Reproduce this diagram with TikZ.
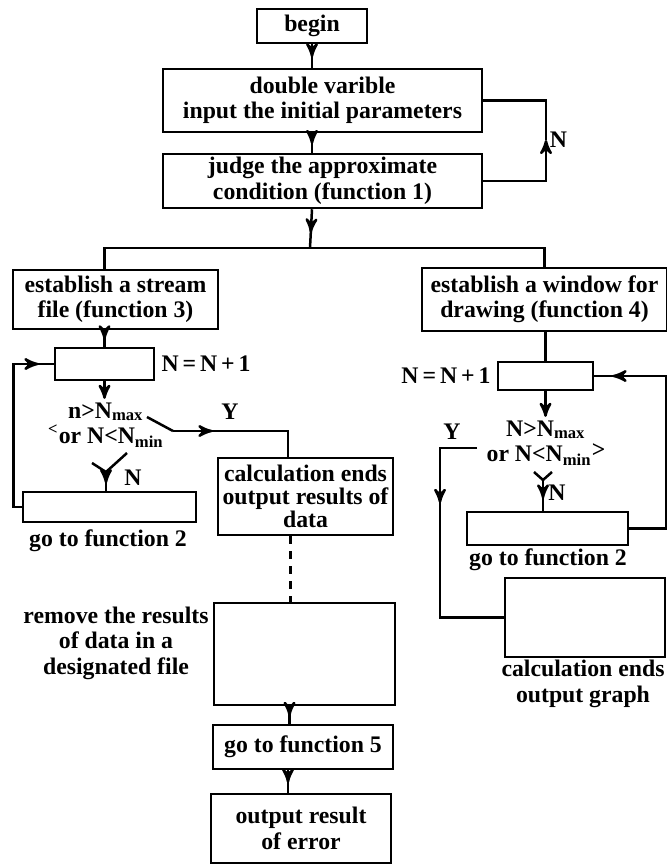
\documentclass[tikz,border=0pt]{standalone}
\usepackage{fontspec}
\setmainfont{Liberation Serif}
\usepackage{tikz}
\usetikzlibrary{arrows, shapes, positioning, decorations.markings}

\begin{document}
\begin{tikzpicture}[x=0.4pt, y=-0.4pt, >=stealth', line width=1pt,
                    every node/.style={align=center, inner sep=1pt,
                      font=\fontsize{9.5}{10.2}\selectfont\bfseries},
                    box/.style={draw, rectangle, inner sep=0pt},
                    mid/.style={postaction={decorate},
                      decoration={markings, mark=at position #1 with {\arrow{stealth'}}}},
                    mid/.default=0.55
                    ]
  \useasboundingbox (0,0) rectangle (667,868);

  % main column
  \node[box, minimum width=44pt, minimum height=13.6pt] (begin) at (312,26) {begin};
  \node[box, minimum width=127.6pt, minimum height=25.2pt] (var) at (322.5,100.5)
    {double varible\\input the initial parameters};
  \node[box, minimum width=127.6pt, minimum height=21.6pt] (judge) at (322.5,181)
    {judge the approximate\\condition (function 1)};
  \coordinate (nloop) at (546,140);
  \coordinate (split) at (310,248);

  % two branches
  \node[box, minimum width=82pt, minimum height=23.6pt] (stream) at (115.5,299.5)
    {establish a stream\\file (function 3)};
  \node[box, minimum width=98pt, minimum height=25.2pt] (window) at (544.5,299.5)
    {establish a window for\\drawing (function 4)};

  % left loop
  \node[box, minimum width=39.6pt, minimum height=12.8pt] (lcount) at (104.5,364) {};
  \node (lnn) [right=1pt of lcount] {N\,=\,N\,+\,1};
  \node (ldec) at (106,425) {n>N\textsubscript{max}\\\textsuperscript{<}or N<N\textsubscript{min}};
  \coordinate (lv) at (106,472);
  \coordinate (ly) at (173,431);
  \node (ly lbl) at (230,412) {Y};
  \node (ln lbl) at (133,478) {N};
  \node[box, minimum width=69.2pt, minimum height=12pt] (lgo) at (109.5,507) {};
  \node (lgo lbl) at (108,541) {go to function 2};

  % right loop
  \node[box, minimum width=38pt, minimum height=11.2pt] (rcount) at (545.5,376) {};
  \node (rnn) [left=1pt of rcount] {N\,=\,N\,+\,1};
  \node (rdec) at (546,443) {N>N\textsubscript{max}\\or N<N\textsubscript{min}\raisebox{1.5pt}{>}};
  \coordinate (rv) at (543,480);
  \coordinate (ry) at (477,448);
  \node (ry lbl) at (452,432) {Y};
  \node (rn lbl) at (557,493) {N};
  \node[box, minimum width=64.4pt, minimum height=13.2pt] (rgo) at (547.5,528.5) {};
  \node (rgo lbl) at (548,560) {go to function 2};
  \node[box, minimum width=64pt, minimum height=31.6pt] (graph) at (585,617.5) {};
  \node (graph lbl) at (583,684) {calculation ends\\output graph};

  % output of data
  \node[box, minimum width=70pt, minimum height=30.8pt,
        font=\fontsize{9.5}{9.2}\selectfont\bfseries] (data) at (305.5,496.5)
    {calculation ends\\output results of\\data};
  \node[box, minimum width=72.4pt, minimum height=40.8pt] (remove) at (304.5,654) {};
  \node (remove lbl) at (116,643) {remove the results\\of data in a\\designated file};
  \node[box, minimum width=72pt, minimum height=17.6pt] (go5) at (303,747) {go to function 5};
  \node[box, minimum width=72pt, minimum height=27.6pt] (err) at (301,828.5)
    {output result\\of error};

  % connectors, main column
  \draw[mid] (begin.south) -- (begin.south |- var.north);
  \draw[mid] (begin.south |- var.south) -- (begin.south |- judge.north);
  \draw[->] (judge.east) -| (nloop);
  \draw (nloop) |- (var.east);
  \node (n lbl) [right=0pt of nloop] {N};
  \draw[mid=0.6] (begin.south |- judge.south) -- (split);
  \draw (split) -| (lcount |- stream.north);
  \draw (split) -| (window.north);

  % connectors, left
  \draw[mid] (lcount |- stream.south) -- (lcount.north);
  \draw[->] (lcount.south) -- (lcount |- ldec.north);
  \draw (lv) ++(-14,-9) -- (lv) -- ++(21,-19);
  \draw[mid=0.6] (lv) -- (lv |- lgo.north);
  \draw (ly) ++(-26,-14) -- (ly);
  \draw[mid=0.28] (ly) -| ([xshift=-7pt]data.north);
  \draw[mid=0.92] (lgo.west) -- ++(-8,0) |- (lcount.west);

  % connectors, right
  \draw (rcount.north |- window.south) -- (rcount.north);
  \draw[->] (rcount.south) -- (rcount |- rdec.north);
  \draw (rv) ++(-9,-8) -- (rv) -- ++(9,-8);
  \draw[mid=0.6] (rv) -- (rv |- rgo.north);
  \draw[mid=0.34] (ry) -- ++(-37,0) |- (graph.west);
  \draw[mid=0.93] (rgo.east) -- ++(37,0) |- (rcount.east);

  % connectors, bottom
  \draw[dashed] ([xshift=-6pt]data.south) -- ([xshift=-6pt]data.south |- remove.north);
  \draw[mid] ([xshift=-6pt]remove.south) -- ([xshift=-6pt]remove.south |- go5.north);
  \draw[mid] ([xshift=-6pt]go5.south) -- ([xshift=-6pt]go5.south |- err.north);
\end{tikzpicture}
\end{document}
